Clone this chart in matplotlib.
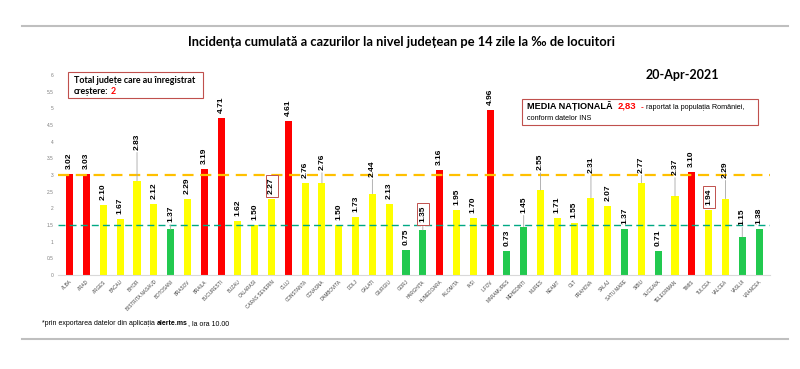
import matplotlib
matplotlib.use('Agg')
import matplotlib.pyplot as plt
from matplotlib.patches import Rectangle
from matplotlib.lines import Line2D

# ---------------- data ----------------
counties = ['ALBA', 'ARAD', 'ARGES', 'BACAU', 'BIHOR', 'BISTRITA NASAUD', 'BOTOSANI',
            'BRASOV', 'BRAILA', 'BUCURESTI', 'BUZAU', 'CALARASI', 'CARAS SEVERIN', 'CLUJ',
            'CONSTANTA', 'COVASNA', 'DAMBOVITA', 'DOLJ', 'GALATI', 'GIURGIU', 'GORJ',
            'HARGHITA', 'HUNEDOARA', 'IALOMITA', 'IASI', 'ILFOV', 'MARAMURES', 'MEHEDINTI',
            'MURES', 'NEAMT', 'OLT', 'PRAHOVA', 'SALAJ', 'SATU MARE', 'SIBIU', 'SUCEAVA',
            'TELEORMAN', 'TIMIS', 'TULCEA', 'VALCEA', 'VASLUI', 'VRANCEA']
values = [3.02, 3.03, 2.10, 1.67, 2.83, 2.12, 1.37,
          2.29, 3.19, 4.71, 1.62, 1.50, 2.27, 4.61,
          2.76, 2.76, 1.50, 1.73, 2.44, 2.13, 0.75,
          1.35, 3.16, 1.95, 1.70, 4.96, 0.73, 1.45,
          2.55, 1.71, 1.55, 2.31, 2.07, 1.37, 2.77, 0.71,
          2.37, 3.10, 1.94, 2.29, 1.15, 1.38]
threshold_high = 3.0
threshold_low = 1.5
national_avg = '2,83'
increase_count = '2'
boxed_counties = ['CARAS SEVERIN', 'HARGHITA', 'TULCEA']
date_label = '20-Apr-2021'
y_ticks = [0, 0.5, 1, 1.5, 2, 2.5, 3, 3.5, 4, 4.5, 5, 5.5, 6]

# ---------------- layout / style ----------------
# label lift above bar top, in pixels (leader line drawn when large)
label_lift = {'BIHOR': 31, 'BOTOSANI': 7, 'COVASNA': 13, 'GALATI': 17, 'HARGHITA': 8,
              'MEHEDINTI': 14, 'MURES': 20, 'PRAHOVA': 25, 'SIBIU': 10,
              'TELEORMAN': 21, 'VALCEA': 21, 'VASLUI': 12}
RED, YELLOW, GREEN = '#FF0000', '#FFFF00', '#22C94F'
BOXRED = '#C0504D'
FONT = ['Lato', 'DejaVu Sans']
ARIAL = ['Liberation Sans', 'DejaVu Sans']
plt.rcParams['font.family'] = FONT

W, H = 800, 369
fig = plt.figure(figsize=(W / 100, H / 100), dpi=100)
fig.patch.set_facecolor('white')

def px(x, y):
    return x / W, 1 - y / H

ax = fig.add_axes([58 / W, 1 - 275 / H, 712 / W, 200 / H])
x = list(range(len(counties)))
colors = [RED if v >= threshold_high else (YELLOW if v >= threshold_low else GREEN) for v in values]
ax.bar(x, values, width=0.42, color=colors, zorder=2)
ax.set_xlim(-0.7, len(counties) - 0.35)
ax.set_ylim(0, 6)
ax.set_yticks(y_ticks)
ax.set_yticklabels([f'{t:g}' for t in y_ticks], family=ARIAL)
ax.tick_params(axis='y', length=0, labelsize=3.5, labelcolor='#7F7F7F', pad=3)
ax.set_xticks(x)
ax.set_xticklabels(counties, rotation=45, ha='right', rotation_mode='anchor', family=ARIAL)
ax.tick_params(axis='x', length=0, labelsize=3.3, labelcolor='#404040', pad=3)
for s in ['top', 'right', 'left']:
    ax.spines[s].set_visible(False)
ax.spines['bottom'].set_color('#D9D9D9')
ax.spines['bottom'].set_linewidth(0.8)

ax.axhline(threshold_high, color='#FFC000', lw=1.6, ls=(0, (5, 3)), zorder=3)
ax.axhline(threshold_low, color='#00A884', lw=1.0, ls=(0, (5, 3)), zorder=3)

for i, (c, v) in enumerate(zip(counties, values)):
    lift = label_lift.get(c, 5)
    kw = dict(xy=(i, v), xytext=(0, lift), textcoords='offset pixels', rotation=90,
              ha='center', va='bottom', fontsize=6, fontweight='bold', color='black',
              family=ARIAL, zorder=5)
    if lift > 6:
        kw['arrowprops'] = dict(arrowstyle='-', color='#A6A6A6', lw=0.6, shrinkA=0, shrinkB=0)
    if c in boxed_counties:
        kw['bbox'] = dict(boxstyle='square,pad=0.3', fc='white', ec=BOXRED, lw=0.7)
    ax.annotate(f'{v:.2f}', **kw)

# title
fig.text(*px(401, 42), 'Incidența cumulată a cazurilor la nivel județean pe 14 zile la ‰ de locuitori',
         ha='center', va='center', fontsize=9.3, fontweight='bold')
fig.text(*px(682, 75), date_label, ha='center', va='center', fontsize=9, fontweight='bold')

def run(xp, yp, pieces):
    """Draw consecutive text pieces starting at pixel (xp, yp) baseline; gap in px after each."""
    cur = xp
    for txt, gap, kw in pieces:
        t = fig.text(*px(cur, yp), txt, ha='left', va='baseline', **kw)
        fig.canvas.draw()
        bb = t.get_window_extent()
        cur = bb.x1 + gap
    return cur

# box 1
fig.patches.append(Rectangle(px(68, 98), 135 / W, 26 / H, transform=fig.transFigure,
                             fill=False, ec=BOXRED, lw=0.8))
run(74, 83, [('Total județe care au înregistrat', 0, dict(fontsize=6.4, fontweight='bold'))])
run(74, 94, [('creștere:', 2.5, dict(fontsize=6.4, fontweight='bold')),
             (increase_count, 0, dict(fontsize=6.4, fontweight='bold', color=RED))])

# box 2
fig.patches.append(Rectangle(px(522, 125), 236 / W, 26 / H, transform=fig.transFigure,
                             fill=False, ec=BOXRED, lw=0.8))
run(527, 109, [('MEDIA NAȚIONALĂ', 5, dict(fontsize=6.6, fontweight='bold', family=ARIAL)),
               (national_avg, 4, dict(fontsize=6.8, fontweight='bold', color=RED, family=ARIAL)),
               ('-', 3, dict(fontsize=6, fontweight='bold', color=RED, family=ARIAL)),
               ('raportat la populația României,', 0, dict(fontsize=5.2, family=ARIAL))])
run(527, 120, [('conform datelor INS', 0, dict(fontsize=5.2, family=ARIAL))])

# footnote
run(42, 325, [('*prin exportarea datelor din aplicația', 2, dict(fontsize=5.0, family=ARIAL)),
              ('alerte.ms', 0, dict(fontsize=5.0, fontweight='bold', family=ARIAL)),
              (', la ora 10.00', 0, dict(fontsize=5.0, family=ARIAL))])

# frame lines
for yy in (26, 339):
    fig.add_artist(Line2D([22 / W, 788 / W], [1 - yy / H] * 2, color='#BFBFBF', lw=1.5,
                          transform=fig.transFigure))

fig.savefig('out.png', dpi=100, facecolor='white')
